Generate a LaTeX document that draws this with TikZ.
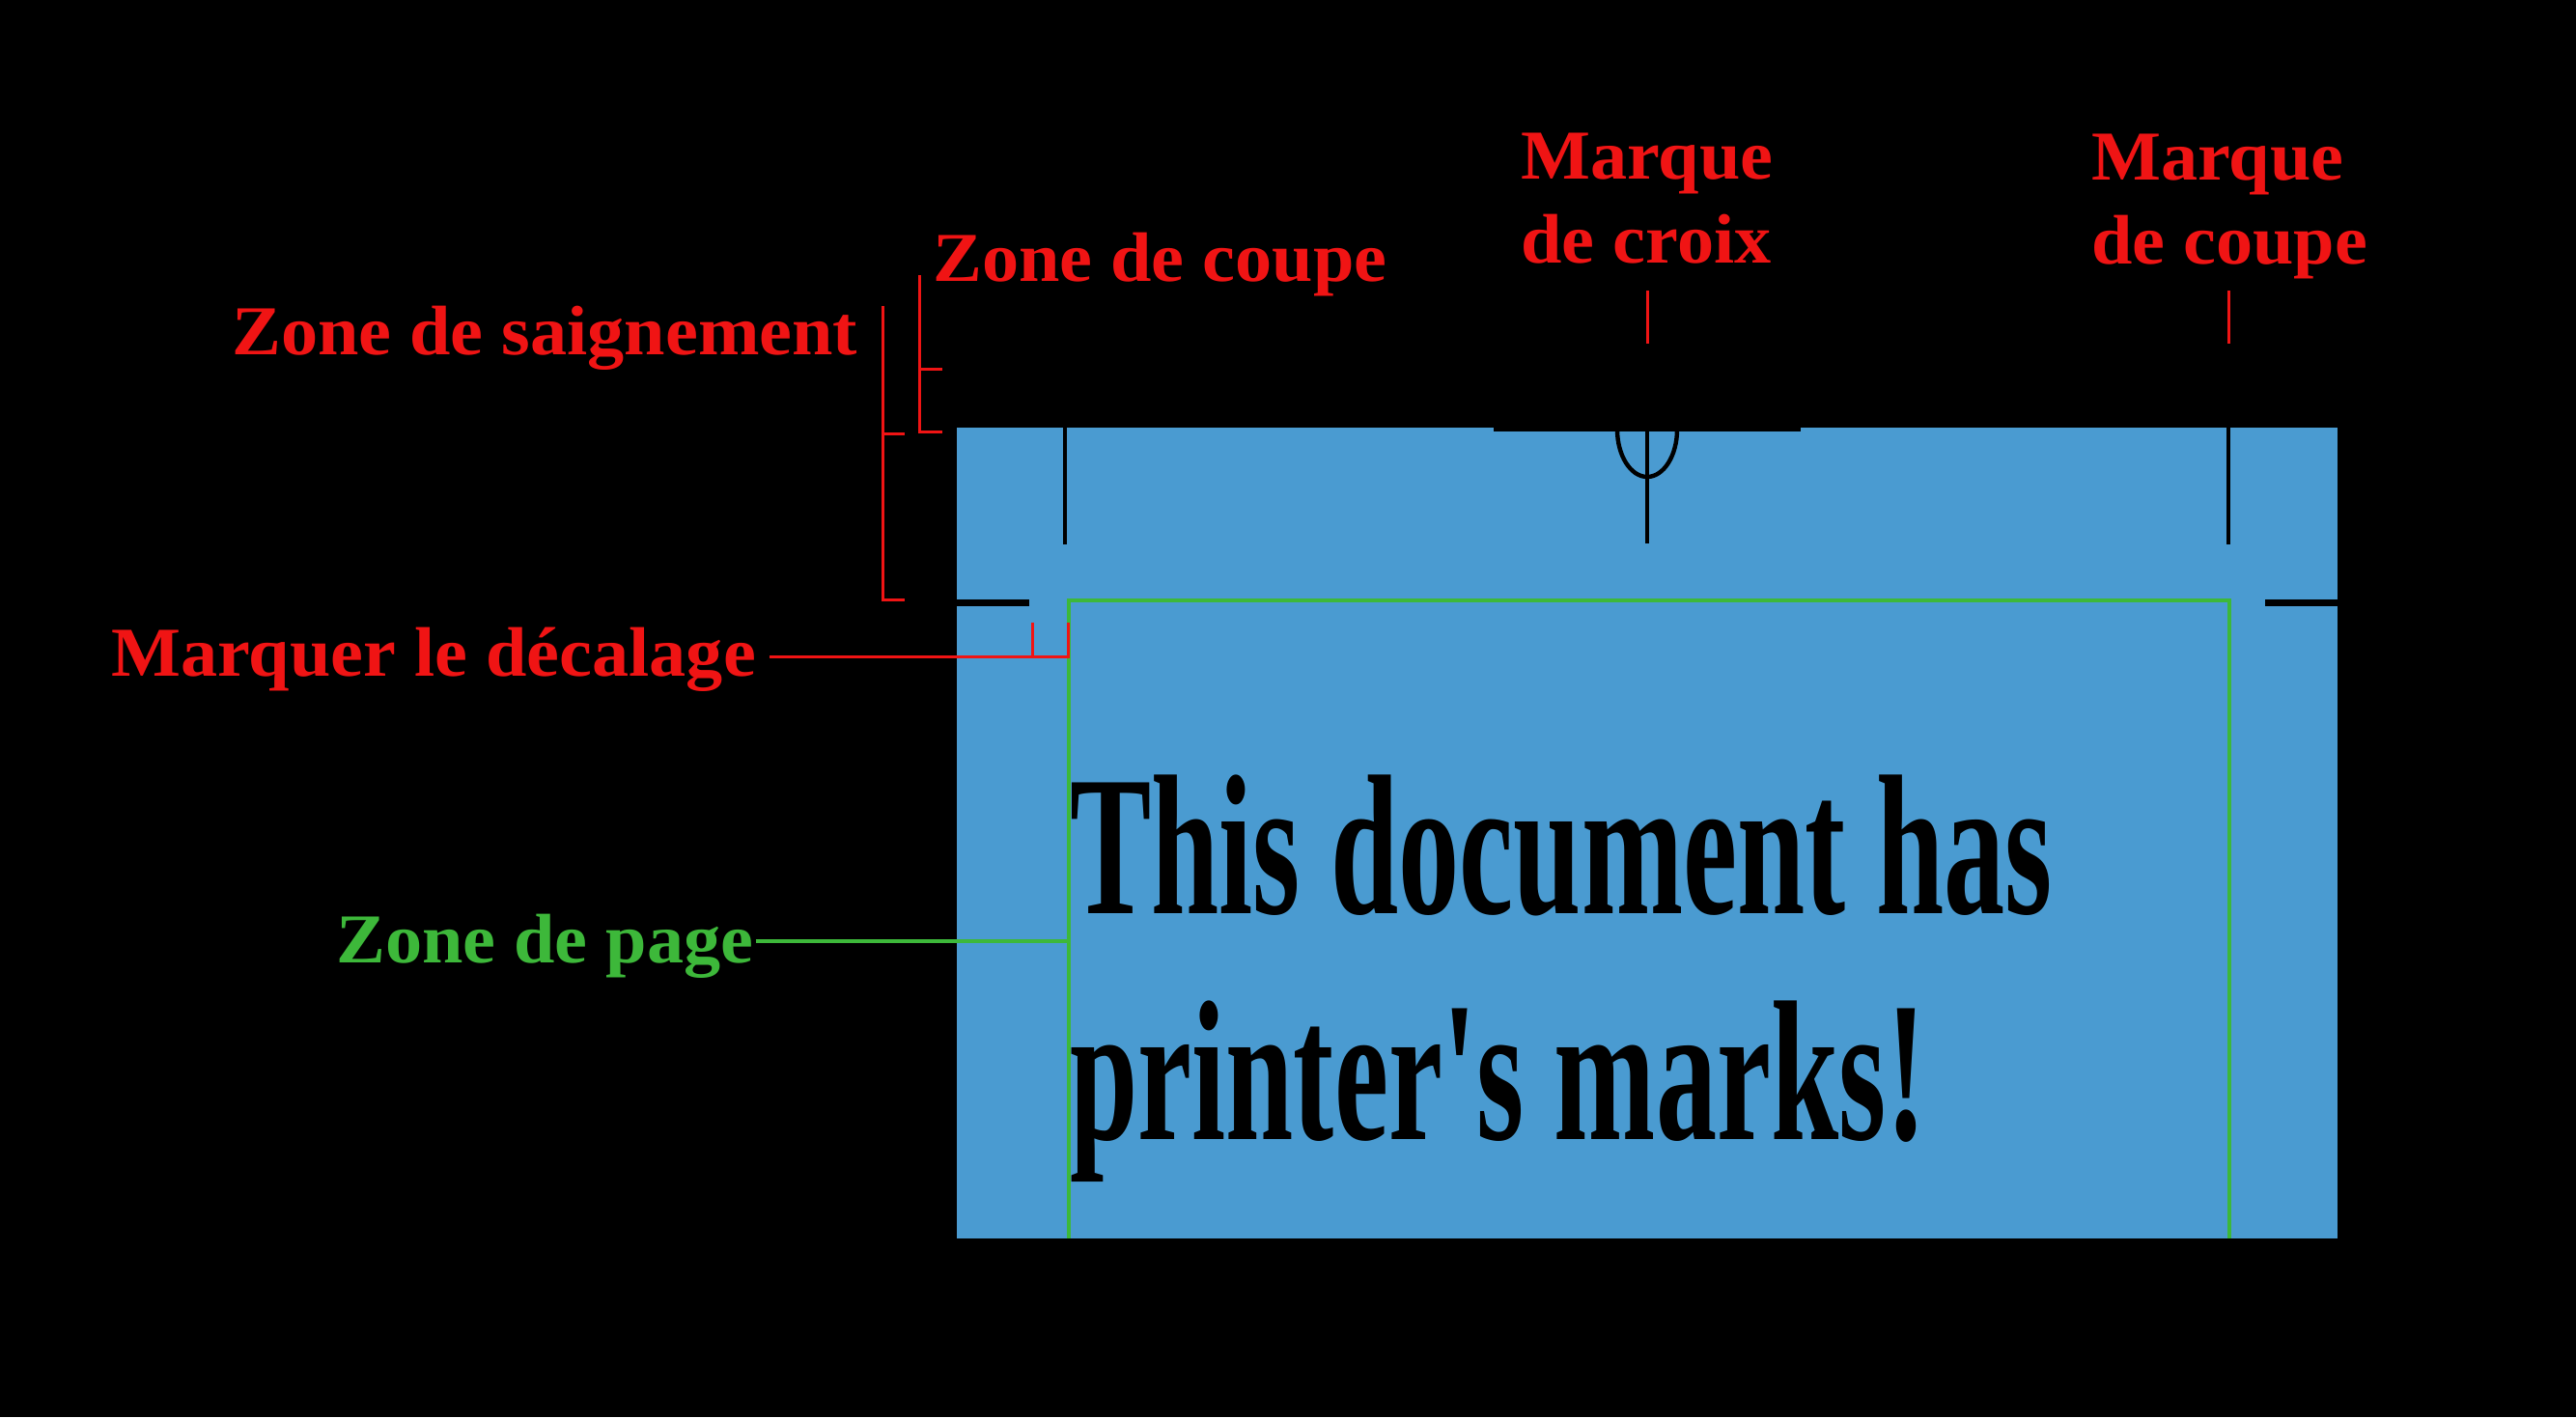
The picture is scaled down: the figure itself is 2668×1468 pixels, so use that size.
\documentclass[tikz,border=0pt]{standalone}
\usepackage{fontspec}
\setmainfont{Liberation Serif}
\newfontfamily\lblfont[FakeStretch=1.05]{Liberation Serif}
\newfontfamily\bigfont[FakeStretch=0.61]{Liberation Serif}
\definecolor{mred}{HTML}{F01414}
\definecolor{mgreen}{HTML}{3DB83A}
\definecolor{mblue}{HTML}{4A9BD1}
\begin{document}
\begin{tikzpicture}[x=0.5pt,y=-0.5pt,
  lbl/.style={font=\lblfont\bfseries\fontsize{36.3pt}{43.5pt}\selectfont, text=mred, inner sep=0pt, anchor=base west, align=left},
  glbl/.style={lbl, text=mgreen},
  bigtxt/.style={font=\bigfont\bfseries\fontsize{103.5pt}{117pt}\selectfont, text=black, inner sep=0pt, anchor=base west},
  redline/.style={draw=mred, line width=1.5pt},
  greenline/.style={draw=mgreen, line width=1.6pt},
  cropline/.style={draw=black, line width=2.2pt},
  cropbar/.style={draw=black, line width=3.5pt}]
\useasboundingbox (0,0) rectangle (2668,1468);
\fill[black] (0,0) rectangle (2668,1468);
% bleed area
\fill[mblue] (991,443) rectangle (2421,1283);
% page text
\node[bigtxt] (doc1) at (1108,946) {This document has};
\node[bigtxt] (doc2) at (1108,1180) {printer's marks!};
% page (trim) area
\draw[greenline] (1107,1283) -- (1107,622) -- (2309,622) -- (2309,1283);
% crop marks
\draw[cropline] (1103,443) -- (1103,564);
\draw[cropline] (2308,443) -- (2308,564);
\draw[cropbar] (991,624) -- (1066,624);
\draw[cropbar] (2346,624) -- (2421,624);
% registration (cross) mark
\fill[black] (1547,440) rectangle (1865,447);
\draw[cropline] (1706,443) -- (1706,563);
\draw[cropline] (1675,445) .. controls (1675,472) and (1689,494) .. (1706,494)
                .. controls (1723,494) and (1737,472) .. (1737,445);
% labels
\node[lbl] (saign) at (240,367) {Zone de saignement};
\node[lbl] (coupe) at (966,291) {Zone de coupe};
\node[lbl] (croix) at (1575,272) {Marque\\de croix};
\node[lbl] (mcoupe) at (2166,273) {Marque\\de coupe};
\node[lbl] (decal) at (115,700) {Marquer le d\'ecalage};
\node[glbl] (zpage) at (348,997) {Zone de page};
% bracket: bleed zone
\draw[redline] (914,317) -- (914,621) -- (937,621);
\draw[redline] (914,449) -- (937,449);
% bracket: trim zone
\draw[redline] (952,285) -- (952,447) -- (976,447);
\draw[redline] (952,382) -- (976,382);
% pointers
\coordinate (croixtip) at (1706,356);
\coordinate (croixtop) at (1706,301);
\draw[redline] (croixtop) -- (croixtip);
\coordinate (mcoupetip) at (2308,356);
\coordinate (mcoupetop) at (2308,301);
\draw[redline] (mcoupetop) -- (mcoupetip);
% offset marker
\coordinate (decend) at (1106,680);
\path (decal.east |- decend) ++(14,0) coordinate (decstart);
\draw[redline] (decstart) -- (decend) -- (1106,645);
\draw[redline] (1069,680) -- (1069,645);
% page zone pointer
\coordinate (pageend) at (1107,975);
\path (zpage.east |- pageend) ++(2,0) coordinate (pagestart);
\draw[greenline] (pagestart) -- (pageend);
\end{tikzpicture}
\end{document}
